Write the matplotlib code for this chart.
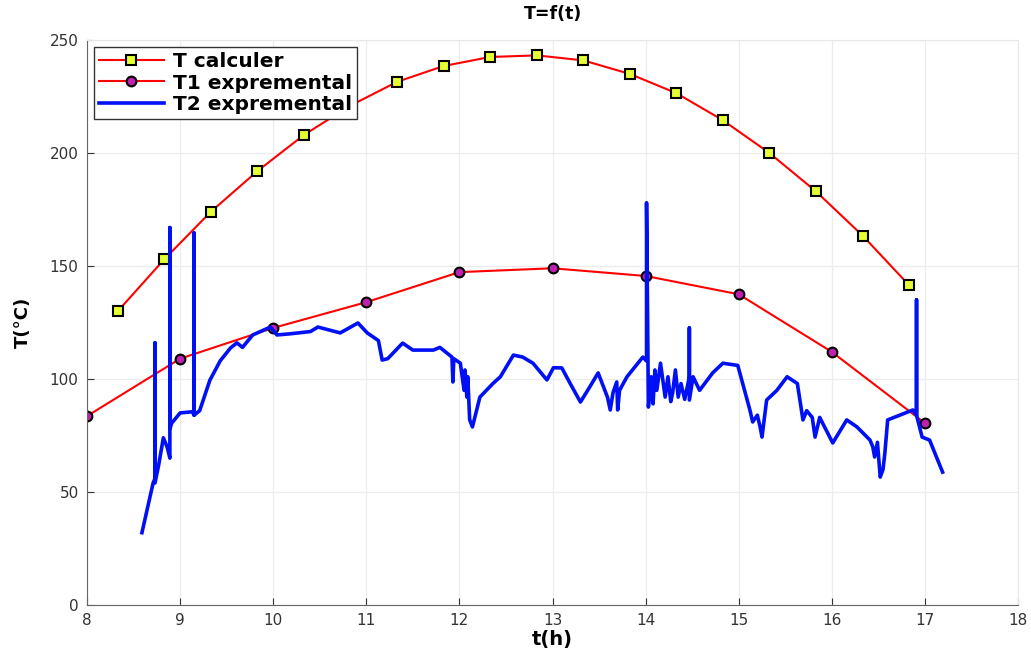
import matplotlib.pyplot as plt

plt.rcParams['font.family'] = ['DejaVu Sans']

# calculated temperature (every half hour, starting 8h20)
t_calc = [8.33, 8.83, 9.33, 9.83, 10.33, 10.83, 11.33, 11.83, 12.33, 12.83,
          13.33, 13.83, 14.33, 14.83, 15.33, 15.83, 16.33, 16.83]
T_calc = [130, 153, 174, 192, 208, 221, 231.5, 238.5, 242.5, 243.2,
          241, 235, 226.5, 214.5, 200, 183, 163.5, 141.5]

# measured T1 (hourly)
t_exp1 = [8, 9, 10, 11, 12, 13, 14, 15, 16, 17]
T_exp1 = [83.6, 109, 122.6, 134, 147.3, 149, 145.6, 137.5, 112, 80.5]

# measured T2 (acquisition record)
t_exp2 = [8.59, 8.71, 8.73, 8.73, 8.73, 8.77, 8.82, 8.86, 8.89, 8.89, 8.89,
          8.91, 9.00, 9.13, 9.15, 9.15, 9.15, 9.21, 9.32, 9.43, 9.54,
          9.61, 9.67, 9.78, 9.97, 10.04, 10.18, 10.40, 10.48, 10.72,
          10.91, 11.01, 11.13, 11.17, 11.23, 11.39, 11.50, 11.72, 11.79,
          11.92, 11.93, 11.94, 12.01, 12.05, 12.06, 12.08, 12.09, 12.11,
          12.14, 12.22, 12.36, 12.44, 12.58, 12.68, 12.79, 12.94, 13.01,
          13.10, 13.19, 13.30, 13.40, 13.49, 13.59, 13.62, 13.65, 13.69,
          13.70, 13.72, 13.80, 13.97, 14.01, 14.01, 14.03, 14.06, 14.08,
          14.10, 14.12, 14.16, 14.21, 14.24, 14.27, 14.29, 14.32, 14.35,
          14.38, 14.42, 14.47, 14.47, 14.47, 14.51, 14.58, 14.72, 14.83,
          14.99, 15.12, 15.15, 15.20, 15.23, 15.25, 15.30, 15.41, 15.52,
          15.63, 15.69, 15.73, 15.79, 15.82, 15.87, 16.01, 16.16, 16.27,
          16.41, 16.44, 16.46, 16.49, 16.52, 16.55, 16.57, 16.60, 16.73,
          16.87, 16.91, 16.91, 16.91, 16.97, 17.05, 17.19]
T_exp2 = [32, 54, 56, 116, 54, 62, 74, 70, 65, 167, 78,
          80.5, 85, 85.5, 84, 164.6, 84, 86, 99.5, 108, 113.7,
          116, 114, 119.5, 123, 119.5, 120, 121, 123, 120.4,
          124.8, 120.4, 117, 108.4, 109, 115.9, 112.8, 112.8, 114,
          109.7, 98.7, 109, 107, 95, 104, 92, 101, 82,
          78.8, 92, 98, 101, 110.6, 109.7, 107, 99.6, 105,
          104.9, 98, 89.8, 96.5, 102.7, 92, 86.3, 94, 98.7,
          86.3, 95, 101, 109.7, 108, 178, 87.6, 101, 89,
          104, 95, 107, 92, 101, 90, 93.8, 104, 92,
          98, 91, 101, 122.6, 90.7, 101, 95, 102.7, 107,
          106, 86.3, 81, 84, 78.8, 74.3, 90.7, 95, 101,
          98, 81.9, 86, 83, 74.3, 83, 71.7, 81.9, 78.8,
          73, 70, 65.5, 72, 56.6, 60, 67.3, 81.9, 84,
          86.3, 84, 135, 84, 74.3, 73, 58.8]

fig = plt.figure(figsize=(10.31, 6.53), dpi=100)
ax = fig.add_axes([0.0844, 0.0735, 0.9030, 0.8652])

ax.plot(t_calc, T_calc, color='red', lw=1.5, marker='s', ms=6.5,
        mfc='#e6ff33', mec='black', mew=1.5, label='T calculer')
ax.plot(t_exp1, T_exp1, color='red', lw=1.5, marker='o', ms=7,
        mfc='#c020b0', mec='black', mew=1.5, label='T1 expremental')
ax.plot(t_exp2, T_exp2, color='#0010f5', lw=2.6, label='T2 expremental')

ax.set_xlim(8, 18)
ax.set_ylim(0, 250)
ax.set_xticks(range(8, 19))
ax.set_yticks(range(0, 251, 50))
ax.grid(True, color='#ececec', lw=0.9)
ax.set_axisbelow(True)
ax.tick_params(direction='in', length=5, labelsize=11, colors='#333333',
               pad=6, top=False, right=False)
for side in ['left', 'bottom']:
    ax.spines[side].set_color('#666666')
for side in ['top', 'right']:
    ax.spines[side].set_color('#e8e8e8')

ax.set_title('T=f(t)', fontsize=12.5, fontweight='bold', pad=15)
ax.set_xlabel('t(h)', fontsize=14, fontweight='bold', labelpad=1)
ax.set_ylabel('T(°C)', fontsize=13, fontweight='bold', labelpad=13)

leg = ax.legend(loc='upper left', prop={'weight': 'bold', 'size': 14.5},
                fancybox=False, framealpha=1, edgecolor='#333333',
                handlelength=3.2, borderpad=0.25, labelspacing=0.12,
                handletextpad=0.45, borderaxespad=0.35)
leg.get_frame().set_linewidth(1.0)

plt.savefig('out.png', dpi=100)
plt.close(fig)
